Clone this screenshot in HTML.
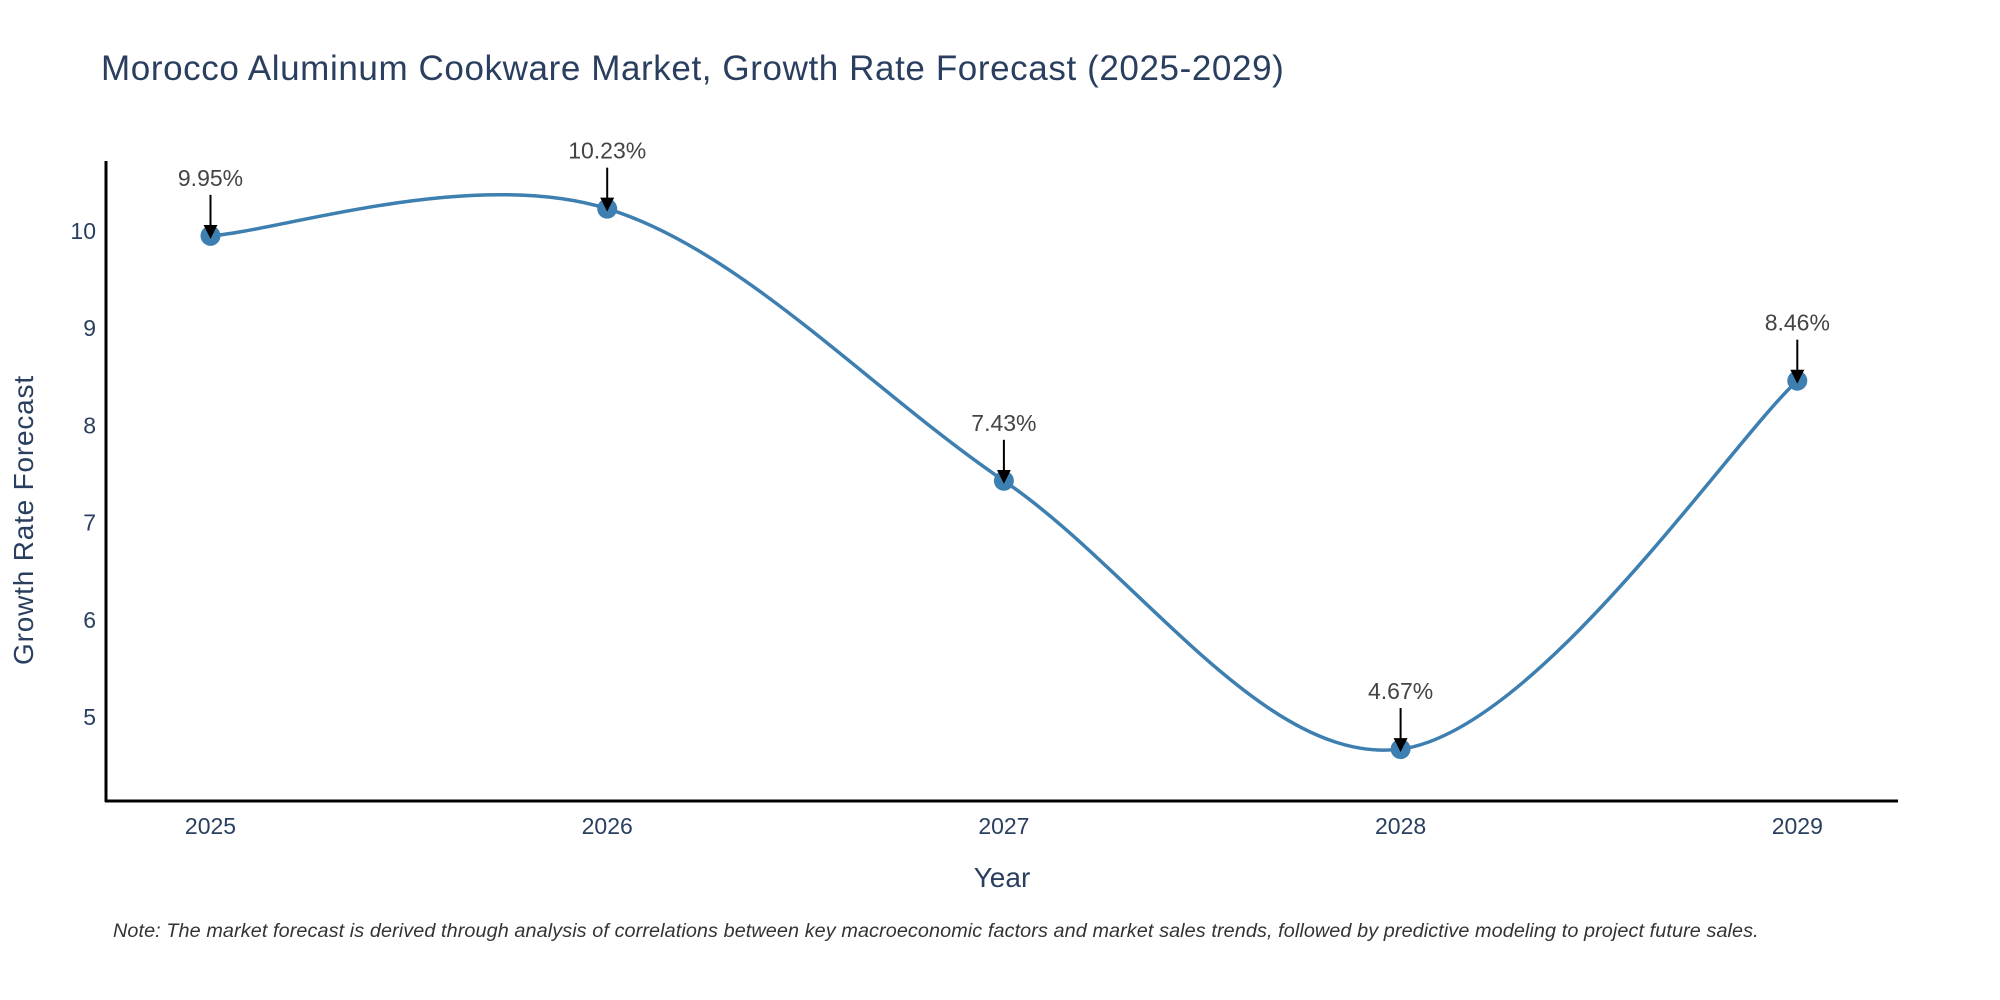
<!DOCTYPE html>
<html><head><meta charset="utf-8"><style>
body{margin:0;background:#fff;}
svg{display:block;font-family:"Liberation Sans",sans-serif;}
</style></head><body>
<svg id="chart" width="2000" height="1000" viewBox="0 0 2000 1000">
<defs><marker id="ah" markerWidth="14" markerHeight="14" refX="9" refY="7" orient="auto" markerUnits="userSpaceOnUse"><path d="M0,0 L14,7 L0,14 Z" fill="#000"/></marker></defs>
<text x="101" y="80" font-size="35" letter-spacing="0.6" fill="#2a3f5f">Morocco Aluminum Cookware Market, Growth Rate Forecast (2025-2029)</text>
<g id="yticks"></g>
<g id="xticks"></g>
<line x1="106" y1="161" x2="106" y2="802" stroke="#000" stroke-width="3"/>
<line x1="105" y1="801" x2="1898" y2="801" stroke="#000" stroke-width="3"/>
<path id="curve" fill="none" stroke="#3d7fb0" stroke-width="3.5"/>
<g id="points"></g>
<g id="annos"></g>
<text x="1002" y="887" font-size="28" fill="#2a3f5f" text-anchor="middle">Year</text>
<text transform="translate(33,520) rotate(-90)" font-size="28" letter-spacing="0.8" fill="#2a3f5f" text-anchor="middle">Growth Rate Forecast</text>
<text x="113" y="937" font-size="19.8" letter-spacing="0.1" font-style="italic" fill="#333">Note: The market forecast is derived through analysis of correlations between key macroeconomic factors and market sales trends, followed by predictive modeling to project future sales.</text>
</svg>
<script>
const years = [2025, 2026, 2027, 2028, 2029];
const values = [9.95, 10.23, 7.43, 4.67, 8.46];
const labels = ["9.95%", "10.23%", "7.43%", "4.67%", "8.46%"];
const yTicks = [5, 6, 7, 8, 9, 10];

const NS = "http://www.w3.org/2000/svg";
function xs(y){ return 210.5 + (y - 2025) * 396.7; }
function ys(v){ return 231 + (10 - v) * 97.2; }
function mk(tag, attrs, parent){ const e = document.createElementNS(NS, tag); for (const k in attrs) e.setAttribute(k, attrs[k]); parent.appendChild(e); return e; }

const yg = document.getElementById('yticks');
yTicks.forEach(t => {
  const e = mk('text', {x: 96, y: ys(t) + 8, 'font-size': 23, fill: '#2a3f5f', 'text-anchor': 'end'}, yg);
  
  
  e.textContent = t;
});
const xg = document.getElementById('xticks');
years.forEach(y => {
  const e = mk('text', {x: xs(y), y: 834, 'font-size': 23, fill: '#2a3f5f', 'text-anchor': 'middle'}, xg);
  
  
  e.textContent = y;
});

const P = years.map((y, i) => [xs(y), ys(values[i])]);
let d = 'M' + P[0][0] + ',' + P[0][1];
const k = 0.17;
for (let i = 0; i < P.length - 1; i++) {
  const p0 = P[Math.max(i - 1, 0)], p1 = P[i], p2 = P[i + 1], p3 = P[Math.min(i + 2, P.length - 1)];
  const c1 = [p1[0] + (p2[0] - p0[0]) * k, p1[1] + (p2[1] - p0[1]) * k];
  const c2 = [p2[0] - (p3[0] - p1[0]) * k, p2[1] - (p3[1] - p1[1]) * k];
  d += ' C' + c1 + ' ' + c2 + ' ' + p2;
}
document.getElementById('curve').setAttribute('d', d);

const pg = document.getElementById('points');
const ag = document.getElementById('annos');
P.forEach((p, i) => {
  const c = mk('circle', {cx: p[0], cy: p[1], r: 10, fill: '#3d7fb0'}, pg);
  
  
  const l = mk('line', {x1: p[0], y1: p[1] - 41, x2: p[0], y2: p[1] - 2, stroke: '#000', 'stroke-width': 2, 'marker-end': 'url(#ah)'}, ag);
  
  
  const t = mk('text', {x: p[0], y: p[1] - 50, 'font-size': 23, fill: '#444', 'text-anchor': 'middle'}, ag);
  
  
  t.textContent = labels[i];
});
</script>
</body></html>
